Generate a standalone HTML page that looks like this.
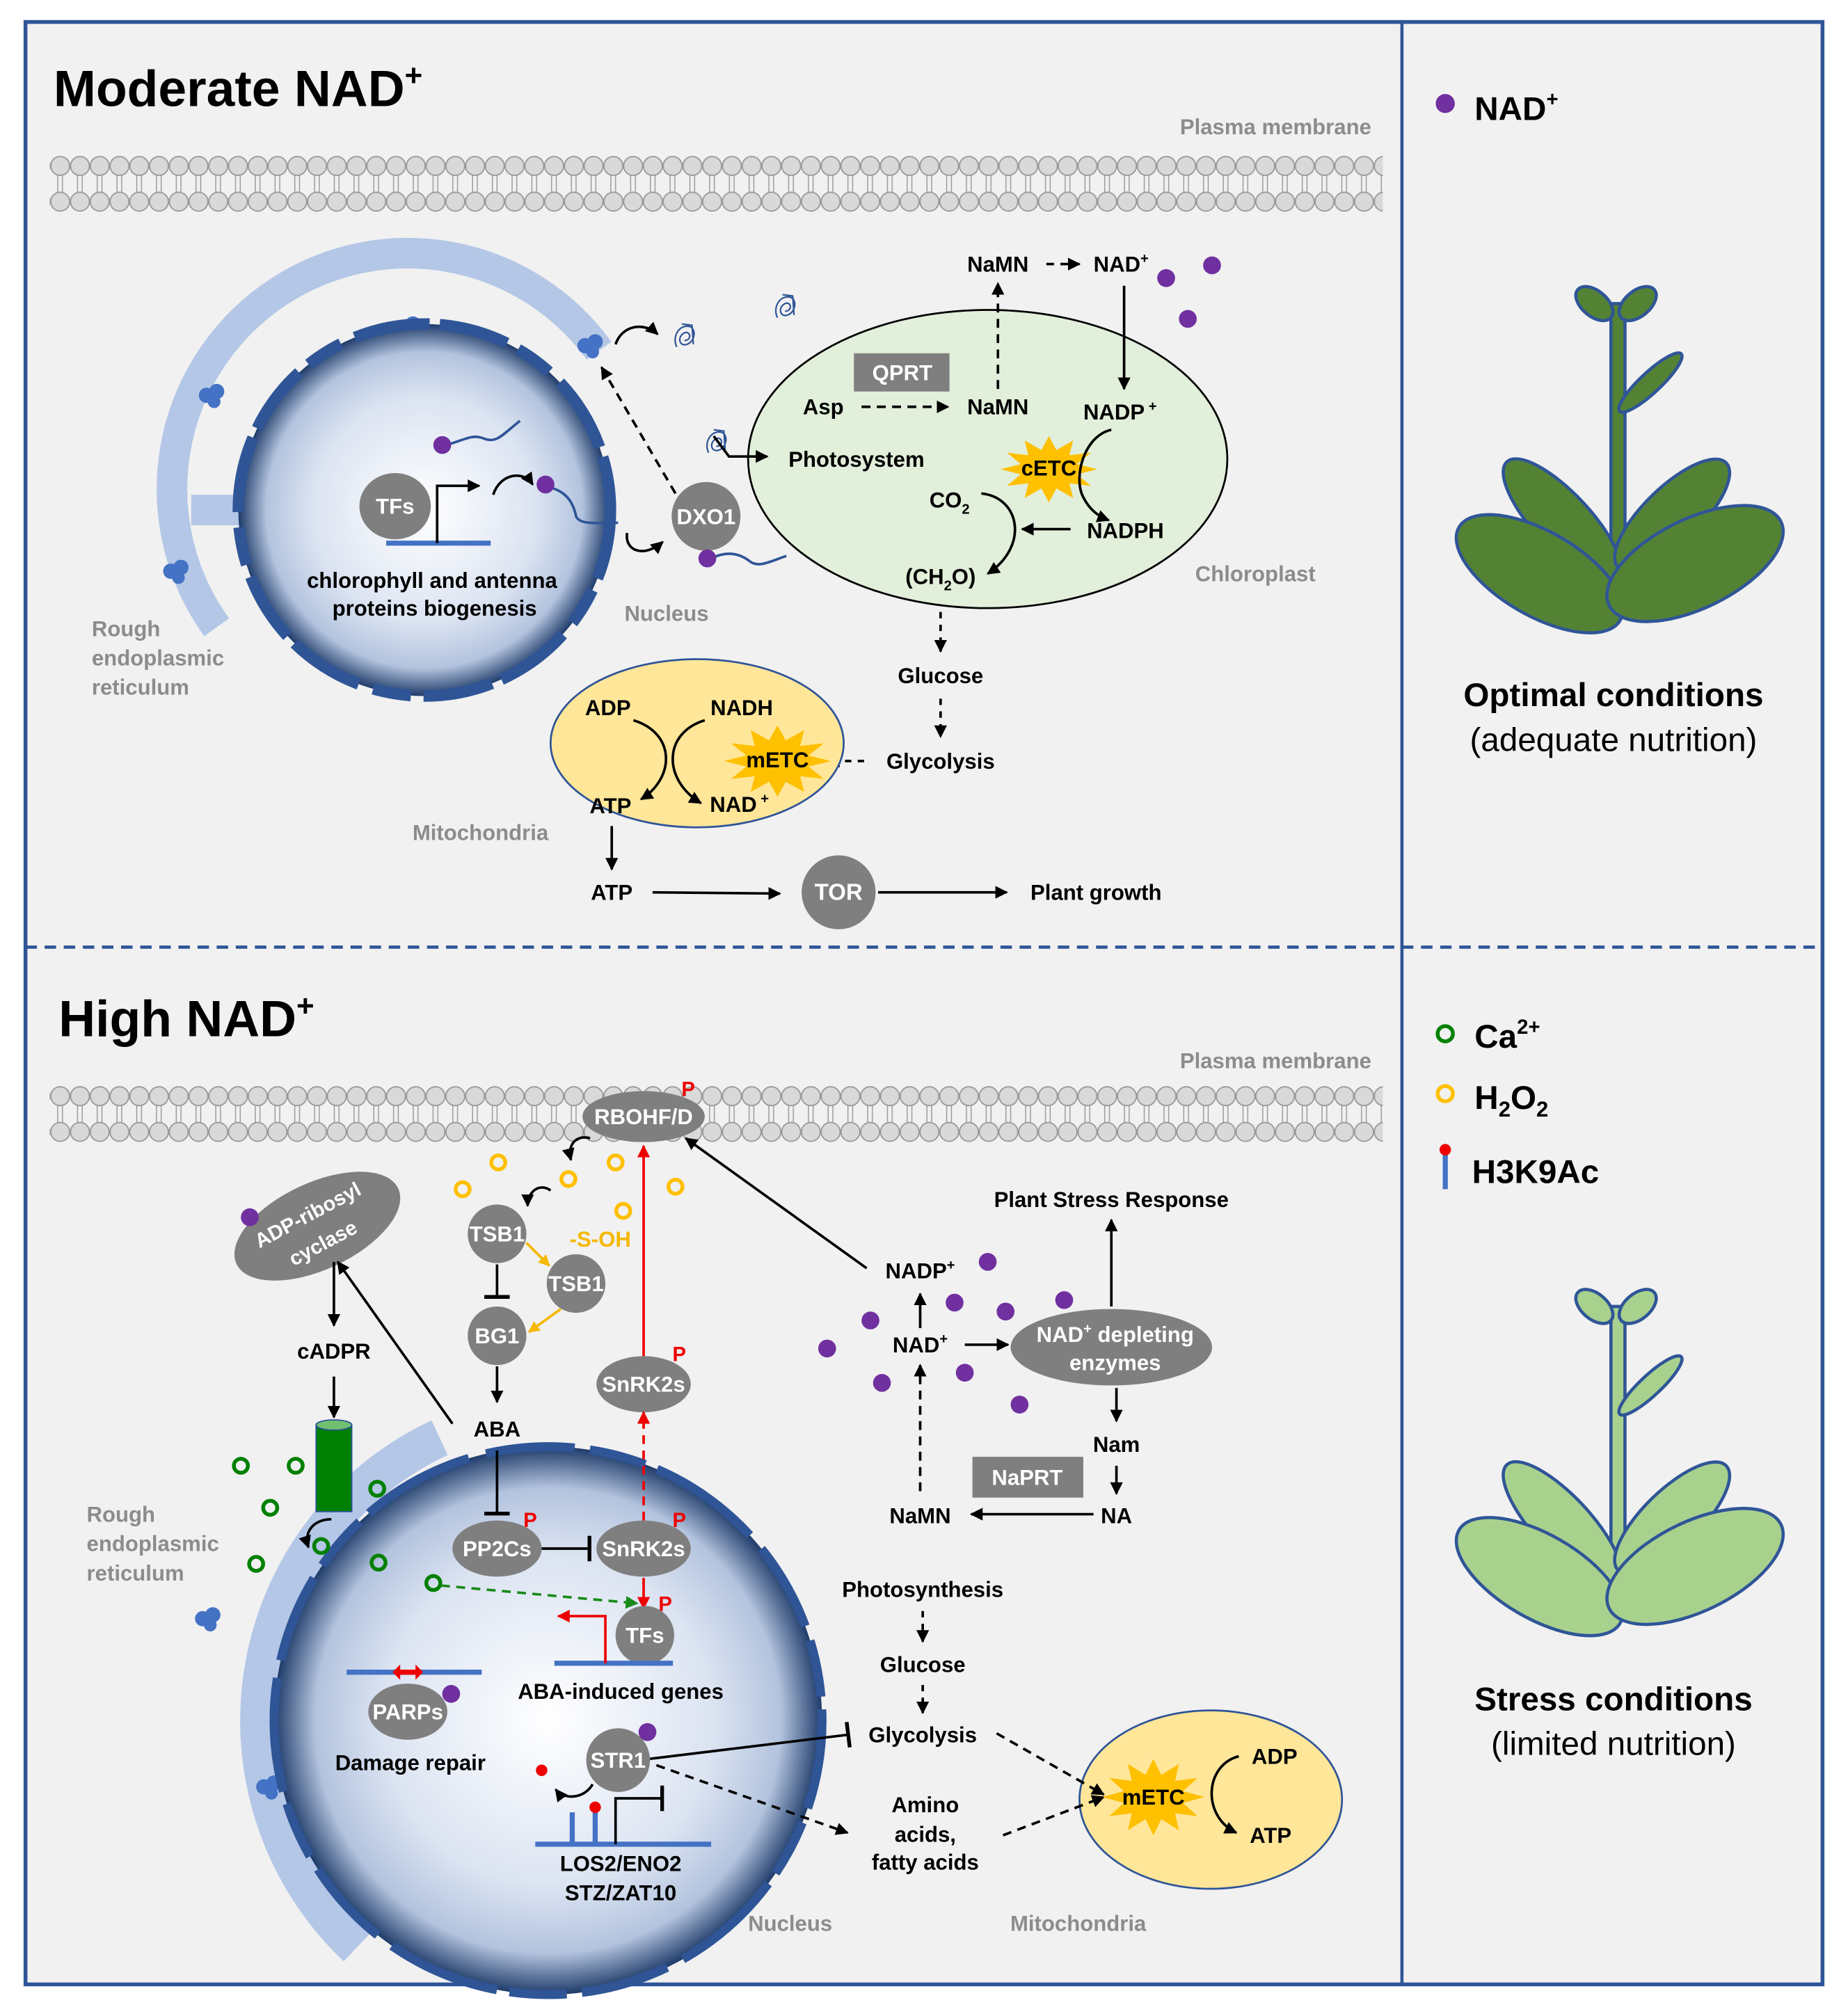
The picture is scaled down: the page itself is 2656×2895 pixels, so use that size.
<!DOCTYPE html>
<html><head><meta charset="utf-8"><style>
html,body{margin:0;padding:0;background:#fff;}
svg{display:block;}
text{font-family:"Liberation Sans",sans-serif;font-weight:bold;}
</style></head><body>
<svg width="2656" height="2895" viewBox="0 0 1450 1580" xmlns="http://www.w3.org/2000/svg">
<defs>
<marker id="a" viewBox="0 0 10 10" refX="9" refY="5" markerWidth="10" markerHeight="10" markerUnits="userSpaceOnUse" orient="auto"><path d="M0,0L10,5L0,10z" fill="#000"/></marker>
<marker id="ar" viewBox="0 0 10 10" refX="9" refY="5" markerWidth="10" markerHeight="10" markerUnits="userSpaceOnUse" orient="auto"><path d="M0,0L10,5L0,10z" fill="#e00"/></marker>
<marker id="ay" viewBox="0 0 10 10" refX="9" refY="5" markerWidth="9" markerHeight="9" markerUnits="userSpaceOnUse" orient="auto"><path d="M0,0L10,5L0,10z" fill="#f5b800"/></marker>
<marker id="ag" viewBox="0 0 10 10" refX="9" refY="5" markerWidth="10" markerHeight="10" markerUnits="userSpaceOnUse" orient="auto"><path d="M0,0L10,5L0,10z" fill="#1a8a1a"/></marker>
<marker id="t" viewBox="0 0 4 20" refX="2" refY="10" markerWidth="4" markerHeight="20" markerUnits="userSpaceOnUse" orient="auto"><rect x="0" y="0" width="3" height="20" fill="#000"/></marker>
<radialGradient id="nuc" cx="0.5" cy="0.5" r="0.5">
<stop offset="0" stop-color="#ffffff"/><stop offset="0.6" stop-color="#dce4f2"/><stop offset="0.85" stop-color="#b3c3de"/><stop offset="1" stop-color="#1f3c6a"/></radialGradient>
<pattern id="mem1" x="39.5" y="122" width="15.5" height="46" patternUnits="userSpaceOnUse">
<line x1="5.8" y1="10" x2="5.8" y2="34" stroke="#999" stroke-width="0.8"/><line x1="9.5" y1="10" x2="9.5" y2="34" stroke="#999" stroke-width="0.8"/>
<circle cx="7.75" cy="8" r="7.4" fill="#d9d9d9" stroke="#999" stroke-width="1"/>
<circle cx="7.75" cy="36" r="7.4" fill="#d9d9d9" stroke="#999" stroke-width="1"/></pattern>
<pattern id="mem2" x="39.5" y="852" width="15.5" height="46" patternUnits="userSpaceOnUse">
<line x1="5.8" y1="10" x2="5.8" y2="34" stroke="#999" stroke-width="0.8"/><line x1="9.5" y1="10" x2="9.5" y2="34" stroke="#999" stroke-width="0.8"/>
<circle cx="7.75" cy="8" r="7.4" fill="#d9d9d9" stroke="#999" stroke-width="1"/>
<circle cx="7.75" cy="36" r="7.4" fill="#d9d9d9" stroke="#999" stroke-width="1"/></pattern>
<polygon id="star" points="1,0 0.58,0.155 0.866,0.5 0.424,0.424 0.5,0.866 0.155,0.58 0,1 -0.155,0.58 -0.5,0.866 -0.424,0.424 -0.866,0.5 -0.58,0.155 -1,0 -0.58,-0.155 -0.866,-0.5 -0.424,-0.424 -0.5,-0.866 -0.155,-0.58 0,-1 0.155,-0.58 0.5,-0.866 0.424,-0.424 0.866,-0.5 0.58,-0.155" fill="#ffc000"/>
<g id="ribo"><circle cx="-4" cy="0" r="6" fill="#4472c4"/><circle cx="4" cy="-3" r="6" fill="#4472c4"/><circle cx="2" cy="5" r="5" fill="#4472c4"/></g>
<g id="prot" fill="none" stroke="#2f5597" stroke-width="1.2"><path d="M-6,8 C-10,0 -4,-10 4,-8 C10,-6 8,4 2,6 C-4,8 -6,0 0,-3 C5,-5 6,3 0,3 M-2,-10 L6,-9 L7,6"/></g>
</defs>
<rect x="0" y="0" width="1450" height="1580" fill="#fff"/>
<rect x="20" y="17" width="1410" height="1540" fill="#f1f1f1" stroke="#2f5597" stroke-width="3"/>
<line x1="1100" y1="17" x2="1100" y2="1557" stroke="#2f5597" stroke-width="2.5"/>
<line x1="20" y1="743" x2="1430" y2="743" stroke="#2f5597" stroke-width="2.5" stroke-dasharray="9,6"/>

<!-- ======= TOP ======= -->
<text x="42" y="83" font-size="40">Moderate NAD<tspan font-size="24" dy="-16">+</tspan></text>
<text x="1076" y="105" font-size="17" fill="#8c8c8c" text-anchor="end">Plasma membrane</text>
<rect x="39" y="122" width="1046" height="46" fill="url(#mem1)"/>

<path d="M170,492 A172,172 0 0 1 470,275" fill="none" stroke="#b4c7e7" stroke-width="24"/>
<rect x="150" y="388" width="45" height="24" fill="#b4c7e7"/>
<use href="#ribo" x="320" y="257"/><use href="#ribo" x="166" y="310"/><use href="#ribo" x="138" y="448"/><use href="#ribo" x="463" y="271"/>
<circle cx="333" cy="400" r="146" fill="url(#nuc)"/>
<circle cx="333" cy="400" r="146" fill="none" stroke="#2f5597" stroke-width="9" stroke-dasharray="55,10,30,12,60,8"/>
<ellipse cx="310" cy="397" rx="28" ry="26" fill="#7f7f7f"/>
<text x="310" y="403" font-size="17" fill="#fff" text-anchor="middle">TFs</text>
<line x1="303" y1="426" x2="385" y2="426" stroke="#4472c4" stroke-width="4"/>
<path d="M343,426 V381 H376" fill="none" stroke="#000" stroke-width="2" marker-end="url(#a)"/>
<path d="M387,388 C392,372 410,368 418,380" fill="none" stroke="#000" stroke-width="2" marker-end="url(#a)"/>
<path d="M350,349 C365,345 370,340 380,344 C390,348 395,340 408,330" fill="none" stroke="#2f5597" stroke-width="2"/>
<circle cx="347" cy="349" r="7" fill="#7030a0"/>
<path d="M430,382 C445,385 450,395 452,405 C455,412 470,410 485,410" fill="none" stroke="#2f5597" stroke-width="2"/>
<circle cx="428" cy="380" r="7" fill="#7030a0"/>
<text x="339" y="461" font-size="17" text-anchor="middle">chlorophyll and antenna</text>
<text x="341" y="483" font-size="17" text-anchor="middle">proteins biogenesis</text>
<text x="523" y="487" font-size="17" fill="#8c8c8c" text-anchor="middle">Nucleus</text>
<text x="72" y="499" font-size="17" fill="#8c8c8c">Rough</text>
<text x="72" y="522" font-size="17" fill="#8c8c8c">endoplasmic</text>
<text x="72" y="545" font-size="17" fill="#8c8c8c">reticulum</text>
<path d="M492,418 C490,432 505,438 520,425" fill="none" stroke="#000" stroke-width="2" marker-end="url(#a)"/>
<path d="M483,270 C488,255 505,252 516,262" fill="none" stroke="#000" stroke-width="2" marker-end="url(#a)"/>
<line x1="530" y1="387" x2="472" y2="288" stroke="#000" stroke-width="2" stroke-dasharray="7,5" marker-end="url(#a)"/>
<circle cx="554" cy="405" r="27" fill="#7f7f7f"/>
<text x="554" y="411" font-size="17" fill="#fff" text-anchor="middle">DXO1</text>
<path d="M558,438 C570,432 580,434 588,440 C595,446 605,440 617,436" fill="none" stroke="#2f5597" stroke-width="2"/>
<circle cx="555" cy="438" r="7" fill="#7030a0"/>
<use href="#prot" x="537" y="264"/><use href="#prot" x="616" y="241"/><use href="#prot" x="562" y="347"/>

<ellipse cx="775" cy="360" rx="188" ry="117" fill="#e2efda" stroke="#000" stroke-width="1.5"/>
<rect x="670" y="277" width="75" height="30" fill="#7f7f7f"/>
<text x="708" y="298" font-size="17" fill="#fff" text-anchor="middle">QPRT</text>
<text x="646" y="325" font-size="17" text-anchor="middle">Asp</text>
<line x1="676" y1="319" x2="744" y2="319" stroke="#000" stroke-width="2" stroke-dasharray="7,5" marker-end="url(#a)"/>
<text x="783" y="325" font-size="17" text-anchor="middle">NaMN</text>
<line x1="783" y1="305" x2="783" y2="222" stroke="#000" stroke-width="2" stroke-dasharray="7,5" marker-end="url(#a)"/>
<text x="783" y="213" font-size="17" text-anchor="middle">NaMN</text>
<line x1="821" y1="207" x2="847" y2="207" stroke="#000" stroke-width="2" stroke-dasharray="6,5" marker-end="url(#a)"/>
<text x="858" y="213" font-size="17">NAD<tspan font-size="11" dy="-7">+</tspan></text>
<circle cx="915" cy="218" r="7" fill="#7030a0"/><circle cx="951" cy="208" r="7" fill="#7030a0"/><circle cx="932" cy="250" r="7" fill="#7030a0"/>
<line x1="882" y1="224" x2="882" y2="305" stroke="#000" stroke-width="2" marker-end="url(#a)"/>
<text x="850" y="329" font-size="17">NADP<tspan font-size="11" dy="-7"> +</tspan></text>
<use href="#star" transform="translate(823,368) scale(38,26)"/>
<text x="823" y="373" font-size="17" text-anchor="middle">cETC</text>
<path d="M872,337 C850,342 842,375 850,390 C855,400 862,405 870,408" fill="none" stroke="#000" stroke-width="2" marker-end="url(#a)"/>
<text x="883" y="422" font-size="17" text-anchor="middle">NADPH</text>
<line x1="840" y1="415" x2="802" y2="415" stroke="#000" stroke-width="2" marker-end="url(#a)"/>
<text x="672" y="366" font-size="17" text-anchor="middle">Photosystem</text>
<path d="M560,342 L572,358 H602" fill="none" stroke="#000" stroke-width="2" marker-end="url(#a)"/>
<text x="745" y="398" font-size="17" text-anchor="middle">CO<tspan font-size="11" dy="5">2</tspan></text>
<path d="M770,387 C800,390 808,428 775,450" fill="none" stroke="#000" stroke-width="2" marker-end="url(#a)"/>
<text x="738" y="458" font-size="17" text-anchor="middle">(CH<tspan font-size="11" dy="5">2</tspan><tspan dy="-5">O)</tspan></text>
<text x="985" y="456" font-size="17" fill="#8c8c8c" text-anchor="middle">Chloroplast</text>
<line x1="738" y1="480" x2="738" y2="511" stroke="#000" stroke-width="2" stroke-dasharray="5,5" marker-end="url(#a)"/>
<text x="738" y="536" font-size="17" text-anchor="middle">Glucose</text>
<line x1="738" y1="548" x2="738" y2="578" stroke="#000" stroke-width="2" stroke-dasharray="5,5" marker-end="url(#a)"/>
<text x="738" y="603" font-size="17" text-anchor="middle">Glycolysis</text>
<line x1="678" y1="597" x2="650" y2="597" stroke="#000" stroke-width="2" stroke-dasharray="5,5" marker-end="url(#a)"/>

<ellipse cx="547" cy="583" rx="115" ry="66" fill="#ffe699" stroke="#2f5597" stroke-width="1.5"/>
<use href="#star" transform="translate(610,597) scale(42,28)"/>
<text x="610" y="602" font-size="17" text-anchor="middle">mETC</text>
<text x="477" y="561" font-size="17" text-anchor="middle">ADP</text>
<text x="582" y="561" font-size="17" text-anchor="middle">NADH</text>
<text x="479" y="638" font-size="17" text-anchor="middle">ATP</text>
<text x="557" y="637" font-size="17">NAD<tspan font-size="11" dy="-7"> +</tspan></text>
<path d="M497,565 C530,575 530,610 503,627" fill="none" stroke="#000" stroke-width="2" marker-end="url(#a)"/>
<path d="M553,565 C520,575 520,612 550,630" fill="none" stroke="#000" stroke-width="2" marker-end="url(#a)"/>
<text x="377" y="659" font-size="17" fill="#8c8c8c" text-anchor="middle">Mitochondria</text>
<line x1="480" y1="648" x2="480" y2="682" stroke="#000" stroke-width="2" marker-end="url(#a)"/>
<text x="480" y="706" font-size="17" text-anchor="middle">ATP</text>
<line x1="512" y1="700" x2="612" y2="701" stroke="#000" stroke-width="2" marker-end="url(#a)"/>
<circle cx="658" cy="700" r="29" fill="#7f7f7f"/>
<text x="658" y="706" font-size="18" fill="#fff" text-anchor="middle">TOR</text>
<line x1="689" y1="700" x2="790" y2="700" stroke="#000" stroke-width="2" marker-end="url(#a)"/>
<text x="860" y="706" font-size="17" text-anchor="middle">Plant growth</text>

<circle cx="1134" cy="81" r="7.5" fill="#7030a0"/>
<text x="1157" y="94" font-size="26">NAD<tspan font-size="16" dy="-11">+</tspan></text>
<g stroke="#2f5597" stroke-width="2.5" fill="#548235">
<rect x="1264" y="238" width="11" height="214"/>
<ellipse cx="1295" cy="300" rx="33" ry="8" transform="rotate(-43 1295 300)"/>
<ellipse cx="1251" cy="238" rx="17" ry="10" transform="rotate(40 1251 238)"/>
<ellipse cx="1285" cy="238" rx="17" ry="10" transform="rotate(-40 1285 238)"/>
<ellipse cx="1226" cy="409" rx="64" ry="22" transform="rotate(47 1226 409)"/>
<ellipse cx="1312" cy="404" rx="59" ry="22" transform="rotate(-44 1312 404)"/>
<ellipse cx="1208" cy="450" rx="73" ry="33" transform="rotate(30 1208 450)"/>
<ellipse cx="1330" cy="442" rx="75" ry="35" transform="rotate(-26 1330 442)"/>
</g>
<text x="1266" y="554" font-size="26" text-anchor="middle">Optimal conditions</text>
<text x="1266" y="589" font-size="26" style="font-weight:normal" text-anchor="middle">(adequate nutrition)</text>

<!-- ======= BOTTOM ======= -->
<text x="46" y="813" font-size="40">High NAD<tspan font-size="24" dy="-16">+</tspan></text>
<text x="1076" y="838" font-size="17" fill="#8c8c8c" text-anchor="end">Plasma membrane</text>
<rect x="39" y="852" width="1046" height="46" fill="url(#mem2)"/>

<path d="M280,1528 A245,245 0 0 1 345,1128" fill="none" stroke="#b4c7e7" stroke-width="30"/>
<use href="#ribo" x="163" y="1270"/><use href="#ribo" x="211" y="1402"/>
<circle cx="430" cy="1350" r="215" fill="url(#nuc)"/>
<circle cx="430" cy="1350" r="215" fill="none" stroke="#2f5597" stroke-width="7" stroke-dasharray="70,12,45,10,90,14"/>

<ellipse cx="505" cy="876" rx="48" ry="20" fill="#7f7f7f"/>
<text x="505" y="882" font-size="17" fill="#fff" text-anchor="middle">RBOHF/D</text>
<text x="540" y="860" font-size="16" fill="#e00" text-anchor="middle">P</text>
<g fill="none" stroke="#ffc000" stroke-width="3">
<circle cx="391" cy="912" r="5.5"/><circle cx="363" cy="933" r="5.5"/><circle cx="446" cy="925" r="5.5"/><circle cx="483" cy="912" r="5.5"/><circle cx="530" cy="931" r="5.5"/><circle cx="489" cy="950" r="5.5"/></g>
<path d="M463,893 C452,890 445,898 448,910" fill="none" stroke="#000" stroke-width="2" marker-end="url(#a)"/>
<path d="M432,934 C424,928 414,934 414,946" fill="none" stroke="#000" stroke-width="2" marker-end="url(#a)"/>

<ellipse cx="249" cy="962" rx="70" ry="34" fill="#7f7f7f" transform="rotate(-25 249 962)"/>
<text x="0" y="0" font-size="16" fill="#fff" text-anchor="middle" transform="translate(244,958) rotate(-28)">ADP-ribosyl</text>
<text x="0" y="0" font-size="16" fill="#fff" text-anchor="middle" transform="translate(256,980) rotate(-28)">cyclase</text>
<circle cx="196" cy="955" r="7" fill="#7030a0"/>
<line x1="262" y1="990" x2="262" y2="1040" stroke="#000" stroke-width="2" marker-end="url(#a)"/>
<text x="262" y="1066" font-size="17" text-anchor="middle">cADPR</text>
<line x1="262" y1="1080" x2="262" y2="1112" stroke="#000" stroke-width="2" marker-end="url(#a)"/>
<rect x="248" y="1118" width="28" height="68" fill="#008000" stroke="#2f5597" stroke-width="1"/>
<ellipse cx="262" cy="1118" rx="14" ry="4" fill="#70c070" stroke="#2f5597" stroke-width="1"/>
<line x1="355" y1="1117" x2="265" y2="990" stroke="#000" stroke-width="2" marker-end="url(#a)"/>
<path d="M260,1192 C246,1192 238,1202 242,1214" fill="none" stroke="#000" stroke-width="2" marker-end="url(#a)"/>
<g fill="none" stroke="#008000" stroke-width="3">
<circle cx="189" cy="1150" r="5.5"/><circle cx="232" cy="1150" r="5.5"/><circle cx="212" cy="1183" r="5.5"/><circle cx="296" cy="1168" r="5.5"/><circle cx="201" cy="1227" r="5.5"/><circle cx="252" cy="1213" r="5.5"/><circle cx="297" cy="1226" r="5.5"/><circle cx="340" cy="1242" r="5.5"/></g>
<line x1="346" y1="1244" x2="500" y2="1258" stroke="#1a8a1a" stroke-width="2" stroke-dasharray="7,5" marker-end="url(#ag)"/>

<circle cx="390" cy="968" r="23" fill="#7f7f7f"/><text x="390" y="974" font-size="17" fill="#fff" text-anchor="middle">TSB1</text>
<circle cx="452" cy="1007" r="23" fill="#7f7f7f"/><text x="452" y="1013" font-size="17" fill="#fff" text-anchor="middle">TSB1</text>
<circle cx="390" cy="1048" r="23" fill="#7f7f7f"/><text x="390" y="1054" font-size="17" fill="#fff" text-anchor="middle">BG1</text>
<line x1="413" y1="975" x2="431" y2="993" stroke="#f5b800" stroke-width="2" marker-end="url(#ay)"/>
<line x1="440" y1="1027" x2="415" y2="1045" stroke="#f5b800" stroke-width="2" marker-end="url(#ay)"/>
<text x="471" y="978" font-size="17" fill="#f5b800" text-anchor="middle">-S-OH</text>
<line x1="390" y1="992" x2="390" y2="1018" stroke="#000" stroke-width="2" marker-end="url(#t)"/>
<line x1="390" y1="1072" x2="390" y2="1100" stroke="#000" stroke-width="2" marker-end="url(#a)"/>
<text x="390" y="1127" font-size="17" text-anchor="middle">ABA</text>
<line x1="390" y1="1138" x2="390" y2="1188" stroke="#000" stroke-width="2" marker-end="url(#t)"/>

<line x1="505" y1="1064" x2="505" y2="899" stroke="#e00" stroke-width="2" marker-end="url(#ar)"/>
<ellipse cx="505" cy="1086" rx="37" ry="22" fill="#7f7f7f"/>
<text x="505" y="1092" font-size="17" fill="#fff" text-anchor="middle">SnRK2s</text>
<text x="533" y="1068" font-size="16" fill="#e00" text-anchor="middle">P</text>
<line x1="505" y1="1193" x2="505" y2="1108" stroke="#e00" stroke-width="2" stroke-dasharray="7,5" marker-end="url(#ar)"/>
<ellipse cx="390" cy="1215" rx="35" ry="22" fill="#7f7f7f"/>
<text x="390" y="1221" font-size="17" fill="#fff" text-anchor="middle">PP2Cs</text>
<text x="416" y="1198" font-size="16" fill="#e00" text-anchor="middle">P</text>
<line x1="425" y1="1215" x2="463" y2="1215" stroke="#000" stroke-width="2" marker-end="url(#t)"/>
<ellipse cx="505" cy="1215" rx="37" ry="22" fill="#7f7f7f"/>
<text x="505" y="1221" font-size="17" fill="#fff" text-anchor="middle">SnRK2s</text>
<text x="533" y="1198" font-size="16" fill="#e00" text-anchor="middle">P</text>
<line x1="505" y1="1238" x2="505" y2="1262" stroke="#e00" stroke-width="2" marker-end="url(#ar)"/>
<circle cx="506" cy="1283" r="23" fill="#7f7f7f"/>
<text x="506" y="1289" font-size="17" fill="#fff" text-anchor="middle">TFs</text>
<text x="522" y="1264" font-size="16" fill="#e00" text-anchor="middle">P</text>
<line x1="435" y1="1305" x2="528" y2="1305" stroke="#4472c4" stroke-width="4"/>
<path d="M475,1305 V1268 H438" fill="none" stroke="#e00" stroke-width="2" marker-end="url(#ar)"/>
<text x="487" y="1333" font-size="17" text-anchor="middle">ABA-induced genes</text>

<line x1="272" y1="1312" x2="378" y2="1312" stroke="#4472c4" stroke-width="4"/>
<path d="M308,1312 L314,1306 V1318 Z M332,1312 L326,1306 V1318 Z" fill="#e00"/>
<line x1="312" y1="1312" x2="328" y2="1312" stroke="#e00" stroke-width="4"/>
<ellipse cx="320" cy="1343" rx="31" ry="22" fill="#7f7f7f"/>
<text x="320" y="1349" font-size="17" fill="#fff" text-anchor="middle">PARPs</text>
<circle cx="354" cy="1329" r="7" fill="#7030a0"/>
<text x="322" y="1389" font-size="17" text-anchor="middle">Damage repair</text>

<circle cx="485" cy="1381" r="25" fill="#7f7f7f"/>
<text x="485" y="1387" font-size="17" fill="#fff" text-anchor="middle">STR1</text>
<circle cx="508" cy="1359" r="7" fill="#7030a0"/>
<line x1="420" y1="1447" x2="558" y2="1447" stroke="#4472c4" stroke-width="4"/>
<line x1="449" y1="1447" x2="449" y2="1422" stroke="#4472c4" stroke-width="4"/>
<line x1="467" y1="1447" x2="467" y2="1422" stroke="#4472c4" stroke-width="4"/>
<circle cx="467" cy="1418" r="4.5" fill="#e00"/><circle cx="425" cy="1389" r="4.5" fill="#e00"/>
<path d="M483,1447 V1411 H520" fill="none" stroke="#000" stroke-width="2" marker-end="url(#t)"/>
<path d="M465,1400 C458,1412 442,1412 436,1404" fill="none" stroke="#000" stroke-width="2" marker-end="url(#a)"/>
<text x="487" y="1468" font-size="17" text-anchor="middle">LOS2/ENO2</text>
<text x="487" y="1491" font-size="17" text-anchor="middle">STZ/ZAT10</text>
<text x="620" y="1515" font-size="17" fill="#8c8c8c" text-anchor="middle">Nucleus</text>
<text x="846" y="1515" font-size="17" fill="#8c8c8c" text-anchor="middle">Mitochondria</text>
<text x="68" y="1194" font-size="17" fill="#8c8c8c">Rough</text>
<text x="68" y="1217" font-size="17" fill="#8c8c8c">endoplasmic</text>
<text x="68" y="1240" font-size="17" fill="#8c8c8c">reticulum</text>
<line x1="510" y1="1380" x2="666" y2="1361" stroke="#000" stroke-width="2" marker-end="url(#t)"/>
<line x1="515" y1="1385" x2="665" y2="1438" stroke="#000" stroke-width="2" stroke-dasharray="7,5" marker-end="url(#a)"/>

<text x="724" y="1253" font-size="17" text-anchor="middle">Photosynthesis</text>
<line x1="724" y1="1264" x2="724" y2="1288" stroke="#000" stroke-width="2" stroke-dasharray="5,5" marker-end="url(#a)"/>
<text x="724" y="1312" font-size="17" text-anchor="middle">Glucose</text>
<line x1="724" y1="1322" x2="724" y2="1344" stroke="#000" stroke-width="2" stroke-dasharray="5,5" marker-end="url(#a)"/>
<text x="724" y="1367" font-size="17" text-anchor="middle">Glycolysis</text>
<text x="726" y="1422" font-size="17" text-anchor="middle">Amino</text>
<text x="726" y="1445" font-size="17" text-anchor="middle">acids,</text>
<text x="726" y="1467" font-size="17" text-anchor="middle">fatty acids</text>
<ellipse cx="950" cy="1412" rx="103" ry="70" fill="#ffe699" stroke="#2f5597" stroke-width="1.5"/>
<line x1="782" y1="1360" x2="866" y2="1408" stroke="#000" stroke-width="2" stroke-dasharray="7,5" marker-end="url(#a)"/>
<line x1="787" y1="1440" x2="866" y2="1410" stroke="#000" stroke-width="2" stroke-dasharray="7,5" marker-end="url(#a)"/>
<use href="#star" transform="translate(905,1410) scale(40,30)"/>
<text x="905" y="1416" font-size="17" text-anchor="middle">mETC</text>
<text x="1000" y="1384" font-size="17" text-anchor="middle">ADP</text>
<text x="997" y="1446" font-size="17" text-anchor="middle">ATP</text>
<path d="M972,1378 C945,1385 943,1425 970,1438" fill="none" stroke="#000" stroke-width="2" marker-end="url(#a)"/>

<line x1="680" y1="995" x2="538" y2="893" stroke="#000" stroke-width="2" marker-end="url(#a)"/>
<text x="722" y="1003" font-size="17" text-anchor="middle">NADP<tspan font-size="11" dy="-7">+</tspan></text>
<text x="722" y="1061" font-size="17" text-anchor="middle">NAD<tspan font-size="11" dy="-7">+</tspan></text>
<line x1="722" y1="1042" x2="722" y2="1015" stroke="#000" stroke-width="2" marker-end="url(#a)"/>
<line x1="757" y1="1055" x2="791" y2="1055" stroke="#000" stroke-width="2" marker-end="url(#a)"/>
<g fill="#7030a0"><circle cx="775" cy="990" r="7"/><circle cx="683" cy="1036" r="7"/><circle cx="749" cy="1022" r="7"/><circle cx="789" cy="1029" r="7"/><circle cx="835" cy="1020" r="7"/><circle cx="649" cy="1058" r="7"/><circle cx="692" cy="1085" r="7"/><circle cx="757" cy="1077" r="7"/><circle cx="800" cy="1102" r="7"/></g>
<ellipse cx="872" cy="1057" rx="79" ry="30" fill="#7f7f7f"/>
<text x="875" y="1053" font-size="17" fill="#fff" text-anchor="middle">NAD<tspan font-size="11" dy="-7">+</tspan><tspan dy="7"> depleting</tspan></text>
<text x="875" y="1075" font-size="17" fill="#fff" text-anchor="middle">enzymes</text>
<line x1="872" y1="1025" x2="872" y2="957" stroke="#000" stroke-width="2" marker-end="url(#a)"/>
<text x="872" y="947" font-size="17" text-anchor="middle">Plant Stress Response</text>
<line x1="876" y1="1089" x2="876" y2="1115" stroke="#000" stroke-width="2" marker-end="url(#a)"/>
<text x="876" y="1139" font-size="17" text-anchor="middle">Nam</text>
<line x1="876" y1="1150" x2="876" y2="1172" stroke="#000" stroke-width="2" marker-end="url(#a)"/>
<text x="876" y="1195" font-size="17" text-anchor="middle">NA</text>
<rect x="763" y="1143" width="87" height="32" fill="#7f7f7f"/>
<text x="806" y="1165" font-size="17" fill="#fff" text-anchor="middle">NaPRT</text>
<line x1="858" y1="1188" x2="762" y2="1188" stroke="#000" stroke-width="2" marker-end="url(#a)"/>
<text x="722" y="1195" font-size="17" text-anchor="middle">NaMN</text>
<line x1="722" y1="1170" x2="722" y2="1071" stroke="#000" stroke-width="2" stroke-dasharray="7,5" marker-end="url(#a)"/>

<circle cx="1134" cy="811" r="6" fill="none" stroke="#008000" stroke-width="3"/>
<text x="1157" y="822" font-size="26">Ca<tspan font-size="16" dy="-11">2+</tspan></text>
<circle cx="1134" cy="858" r="6" fill="none" stroke="#ffc000" stroke-width="3"/>
<text x="1157" y="870" font-size="26">H<tspan font-size="17" dy="6">2</tspan><tspan dy="-6">O</tspan><tspan font-size="17" dy="6">2</tspan></text>
<line x1="1134" y1="906" x2="1134" y2="933" stroke="#4472c4" stroke-width="4"/>
<circle cx="1134" cy="902" r="4.5" fill="#e00"/>
<text x="1155" y="928" font-size="26">H3K9Ac</text>
<g stroke="#2f5597" stroke-width="2.5" fill="#a9d18e" transform="translate(0,787)">
<rect x="1264" y="238" width="11" height="214"/>
<ellipse cx="1295" cy="300" rx="33" ry="8" transform="rotate(-43 1295 300)"/>
<ellipse cx="1251" cy="238" rx="17" ry="10" transform="rotate(40 1251 238)"/>
<ellipse cx="1285" cy="238" rx="17" ry="10" transform="rotate(-40 1285 238)"/>
<ellipse cx="1226" cy="409" rx="64" ry="22" transform="rotate(47 1226 409)"/>
<ellipse cx="1312" cy="404" rx="59" ry="22" transform="rotate(-44 1312 404)"/>
<ellipse cx="1208" cy="450" rx="73" ry="33" transform="rotate(30 1208 450)"/>
<ellipse cx="1330" cy="442" rx="75" ry="35" transform="rotate(-26 1330 442)"/>
</g>
<text x="1266" y="1342" font-size="26" text-anchor="middle">Stress conditions</text>
<text x="1266" y="1377" font-size="26" style="font-weight:normal" text-anchor="middle">(limited nutrition)</text>
</svg>
</body></html>
